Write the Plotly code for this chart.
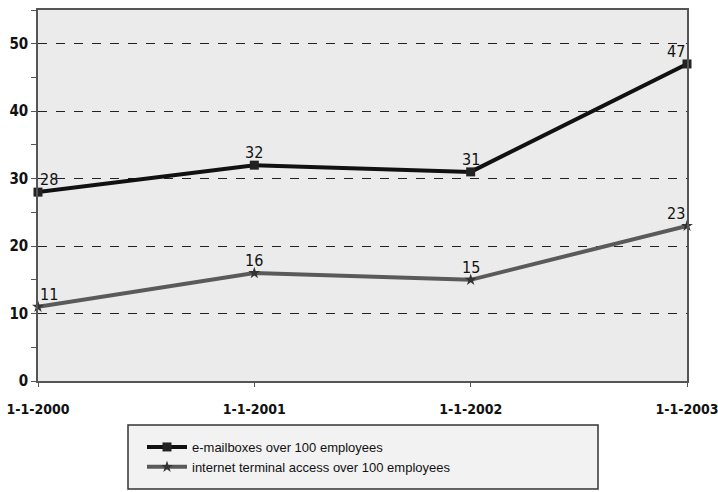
import plotly.graph_objects as go

# Survey dates and per-100-employee indicators
dates = ["1-1-2000", "1-1-2001", "1-1-2002", "1-1-2003"]
mailboxes = [28, 32, 31, 47]
internet_access = [11, 16, 15, 23]

series_names = [
    "e-mailboxes over 100 employees",
    "internet terminal access over 100 employees",
]

narrow = "DejaVu Sans Condensed, Liberation Sans Narrow, Arial Narrow, sans-serif"
anchors = ["left", "center", "center", "right"]

fig = go.Figure()

fig.add_trace(go.Scatter(
    x=dates, y=mailboxes, name=series_names[0],
    mode="lines+markers",
    line=dict(color="#111111", width=4),
    marker=dict(symbol="square", size=9, color="#222222"),
    cliponaxis=False,
))

fig.add_trace(go.Scatter(
    x=dates, y=internet_access, name=series_names[1],
    mode="lines+markers",
    line=dict(color="#5a5a5a", width=4),
    marker=dict(symbol="star", size=9, color="#333333"),
    cliponaxis=False,
))

# value labels just above each point
for values in (mailboxes, internet_access):
    for d, v, a in zip(dates, values, anchors):
        fig.add_annotation(
            x=d, y=v, text=str(v), showarrow=False,
            xanchor=a, yanchor="bottom", yshift=1,
            font=dict(family=narrow, size=16, color="#111111"),
        )

# legend frame
fig.add_shape(
    type="rect", xref="paper", yref="paper",
    x0=(128 - 38) / 649, x1=(598 - 38) / 649,
    y0=(381 - 489) / 371, y1=(381 - 425) / 371,
    line=dict(color="#333333", width=1.5), fillcolor="#f2f2f2",
    layer="below",
)

fig.update_layout(
    width=718, height=492,
    margin=dict(l=38, r=31, t=10, b=111),
    paper_bgcolor="white",
    plot_bgcolor="#ebebeb",
    showlegend=True,
    legend=dict(
        x=(142 - 38) / 649, y=(381 - 432) / 371,
        xanchor="left", yanchor="top",
        bgcolor="rgba(0,0,0,0)",
        font=dict(family="Liberation Sans, Arial, sans-serif", size=13, color="#111111"),
        tracegroupgap=0, itemwidth=40,
    ),
    xaxis=dict(
        type="category", range=[0, 3], automargin=False,
        showgrid=False, showline=True, linecolor="#555555", linewidth=1.5,
        mirror=True, ticks="outside", ticklen=4, tickcolor="#555555",
        ticklabelstandoff=10,
        tickfont=dict(family=narrow, size=14, color="#111111", weight="bold"),
        fixedrange=True,
    ),
    yaxis=dict(
        range=[0, 55], dtick=10, tick0=0, automargin=False,
        showgrid=True, gridcolor="#222222", griddash="dash", gridwidth=1,
        showline=True, linecolor="#555555", linewidth=1.5, mirror=True,
        ticks="outside", ticklen=5, tickcolor="#555555",
        minor=dict(dtick=5, ticks="outside", ticklen=5, tickcolor="#555555", showgrid=False),
        tickfont=dict(family=narrow, size=15, color="#111111", weight="bold"),
        zeroline=False, fixedrange=True,
    ),
)

fig.write_html("out.html")
